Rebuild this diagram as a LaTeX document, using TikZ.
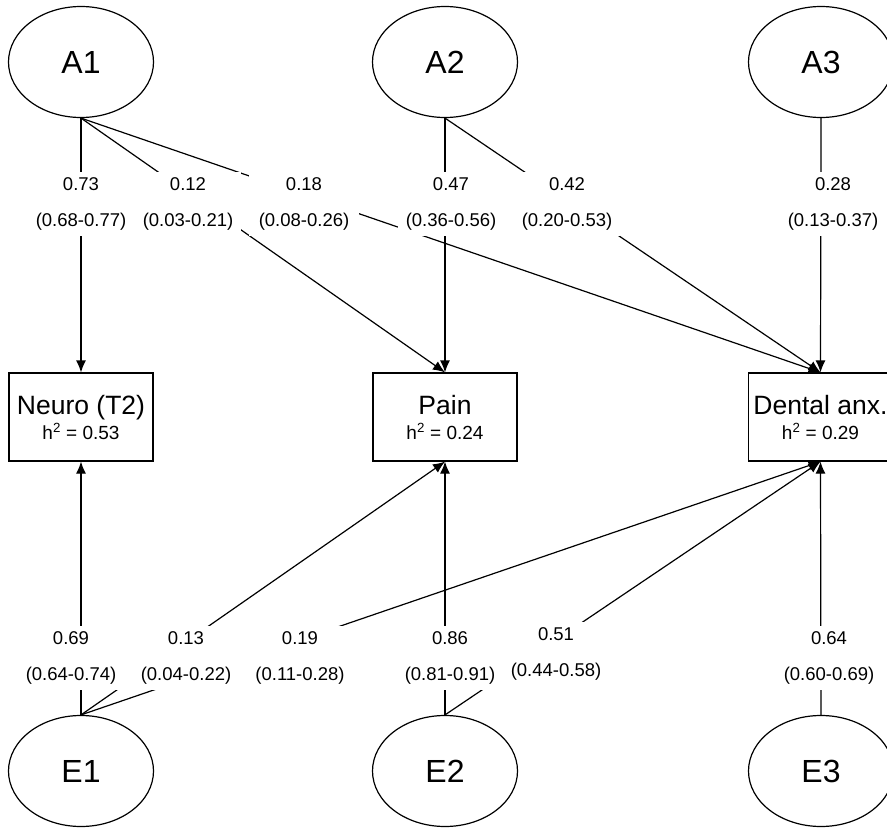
\documentclass[tikz,border=0pt]{standalone}
\usepackage{fontspec}
\setmainfont{Liberation Sans}
\usetikzlibrary{arrows.meta, shapes.geometric}
\tikzset{
      latent/.style={
		draw, ellipse,
		minimum width=145pt,
		minimum height=111pt,
		inner sep=0pt,
		font=\fontsize{32}{36}\selectfont,
	  },
      trait box/.style={
		draw, rectangle,
		minimum width=144pt,
		minimum height=88pt,
		inner sep=0pt,
		align=center,
		font=\fontsize{26.5}{25}\selectfont,
	  },
      estimate/.style={
		fill=white,
		align=center,
		inner xsep=8pt, inner ysep=6pt,
		font=\fontsize{18.5}{36}\selectfont,
	  },
      load/.style={-{Latex[length=12pt,width=10pt]}},
  	}

\begin{document}
\begin{tikzpicture}[x=1pt, y=-1pt, line width=1.2pt]
    \useasboundingbox (0,0) rectangle (887,830);
    \clip (0,0) rectangle (887,830);
    % latent factors
    \node [latent] (A1) at (81,62) {A1};
    \node [latent] (A2) at (445,62) {A2};
    \node [latent] (A3) at (821,62) {A3};
    \node [latent] (E1) at (81,771) {E1};
    \node [latent] (E2) at (445,771) {E2};
    \node [latent] (E3) at (821,771) {E3};
    % observed traits
    \node [trait box] (neuro) at (81,417) {Neuro (T2)\\{\fontsize{19}{25}\selectfont h\textsuperscript{2} = 0.53}};
    \node [trait box] (pain) at (445,417) {Pain\\{\fontsize{19}{25}\selectfont h\textsuperscript{2} = 0.24}};
    \node [trait box] (dental) at (820.5,417) {Dental anx.\\{\fontsize{19}{25}\selectfont h\textsuperscript{2} = 0.29}};
    % paths
    \draw [load] (A1.south) -- (neuro.north);
    \draw [load] (A1.south) -- (pain.north);
    \draw [load] (A1.south) -- (dental.north);
    \draw [load] (A2.south) -- (pain.north);
    \draw [load] (A2.south) -- (dental.north);
    \draw [load] (A3.south) -- (dental.north);
    \draw [load] (E1.north) -- (neuro.south);
    \draw [load] (E1.north) -- (pain.south);
    \draw [load] (E1.north) -- (dental.south);
    \draw [load] (E2.north) -- (pain.south);
    \draw [load] (E2.north) -- (dental.south);
    \draw [load] (E3.north) -- (dental.south);
    % estimates
    \node [estimate] (a11) at (81,204) {0.73\\(0.68-0.77)};
    \node [estimate] (a12) at (188,204) {0.12\\(0.03-0.21)};
    \node [estimate, inner xsep=10pt] (a13) at (304,204) {0.18\\(0.08-0.26)};
    \node [estimate] (a22) at (451,204) {0.47\\(0.36-0.56)};
    \node [estimate] (a23) at (567,204) {0.42\\(0.20-0.53)};
    \node [estimate] (a33) at (833,204) {0.28\\(0.13-0.37)};
    \node [estimate, inner xsep=12pt] (e11) at (71,658) {0.69\\(0.64-0.74)};
    \node [estimate, inner xsep=16pt] (e12) at (186,658) {0.13\\(0.04-0.22)};
    \node [estimate] (e13) at (300,658) {0.19\\(0.11-0.28)};
    \node [estimate] (e22) at (450,658) {0.86\\(0.81-0.91)};
    \node [estimate] (e23) at (556,654) {0.51\\(0.44-0.58)};
    \node [estimate] (e33) at (829,658) {0.64\\(0.60-0.69)};
  \end{tikzpicture}
\end{document}
